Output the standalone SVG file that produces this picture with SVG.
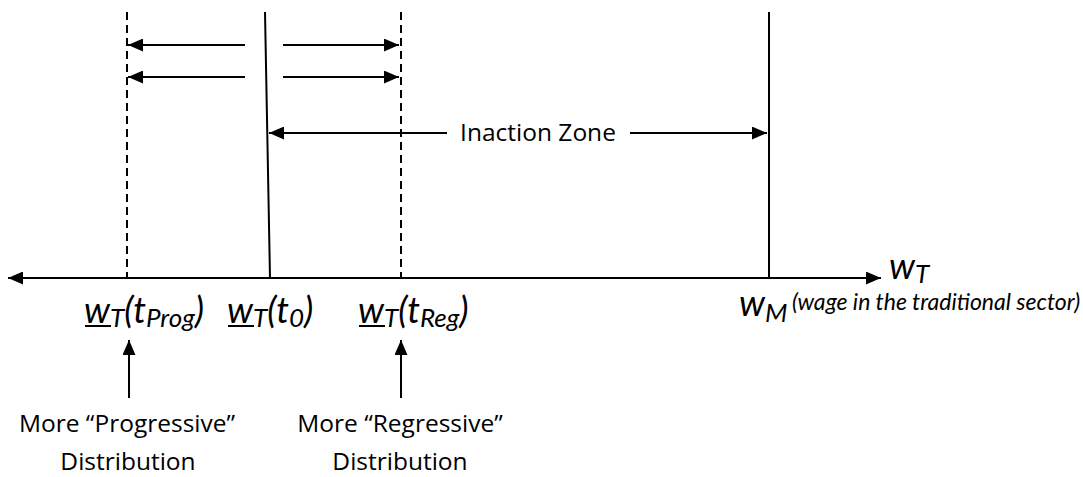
<svg xmlns="http://www.w3.org/2000/svg" width="1083" height="477" viewBox="0 0 1083 477">
<defs>
<marker id="ah" viewBox="0 0 15 13" refX="15" refY="6.5" markerWidth="15" markerHeight="13" markerUnits="userSpaceOnUse" orient="auto-start-reverse">
<path d="M0,0 L15,6.5 L0,13 Z" fill="#000"/>
</marker>
<style>
.ln{stroke:#000;stroke-width:2;fill:none}
.ds{stroke:#000;stroke-width:2;fill:none;stroke-dasharray:8,5}
.ar{stroke:#000;stroke-width:2;fill:none;marker-end:url(#ah)}
.lbl{font-family:Lato,"Open Sans",sans-serif;font-style:italic;font-size:36px;fill:#000}
.sub{font-size:26px}
.txt{font-family:"Open Sans",Lato,sans-serif;font-size:24.5px;fill:#000}
.note{font-family:Lato,"Open Sans",sans-serif;font-style:italic;font-size:23px;fill:#000}
</style>
</defs>
<rect width="1083" height="477" fill="#fff"/>
<g id="connectors">
<path class="ar" d="M440,278 L8,278"/>
<path class="ar" d="M440,278 L881,278"/>
<path class="ds" d="M127,12 L127,278"/>
<path class="ln" d="M265,12 L270,278"/>
<path class="ds" d="M401,12 L401,278"/>
<path class="ln" d="M769,12 L769,278"/>
<path class="ar" d="M245,45 L128,45"/>
<path class="ar" d="M245,77 L128,77"/>
<path class="ar" d="M283,45 L399,45"/>
<path class="ar" d="M283,77 L399,77"/>
<path class="ar" d="M447,133 L269,133"/>
<path class="ar" d="M630,133 L767,133"/>
<path class="ar" d="M129,398 L129,340"/>
<path class="ar" d="M401,398 L401,340"/>
</g>
<g id="inaction-zone"><text class="txt" x="538" y="141" text-anchor="middle" font-size="24">Inaction Zone</text></g>
<g id="label-prog">
<text class="lbl" x="84" y="323">w<tspan class="sub" dy="4">T</tspan><tspan dy="-4">(t</tspan><tspan class="sub" dy="4">Prog</tspan><tspan dy="-4">)</tspan></text>
<line class="ln" x1="85" y1="326" x2="111" y2="326" stroke-width="2.5"/>
</g>
<g id="label-t0">
<text class="lbl" x="227" y="323">w<tspan class="sub" dy="4">T</tspan><tspan dy="-4">(t</tspan><tspan class="sub" dy="4">0</tspan><tspan dy="-4">)</tspan></text>
<line class="ln" x1="228" y1="326" x2="254" y2="326" stroke-width="2.5"/>
</g>
<g id="label-reg">
<text class="lbl" x="358" y="323">w<tspan class="sub" dy="4">T</tspan><tspan dy="-4">(t</tspan><tspan class="sub" dy="4">Reg</tspan><tspan dy="-4">)</tspan></text>
<line class="ln" x1="359" y1="326" x2="385" y2="326" stroke-width="2.5"/>
</g>
<g id="label-wm">
<text class="lbl" x="739" y="316">w<tspan class="sub" dy="6">M</tspan></text>
<text class="note" x="792" y="310">(wage in the traditional sector)</text>
</g>
<g id="axis-label"><text class="lbl" x="889" y="279" font-size="34">w<tspan class="sub" font-size="22" dy="4">T</tspan></text></g>
<g id="prog-text">
<text class="txt" x="127" y="432" text-anchor="middle">More “Progressive”</text>
<text class="txt" x="128" y="470" text-anchor="middle">Distribution</text>
</g>
<g id="reg-text">
<text class="txt" x="400" y="432" text-anchor="middle">More “Regressive”</text>
<text class="txt" x="400" y="470" text-anchor="middle">Distribution</text>
</g>
</svg>
